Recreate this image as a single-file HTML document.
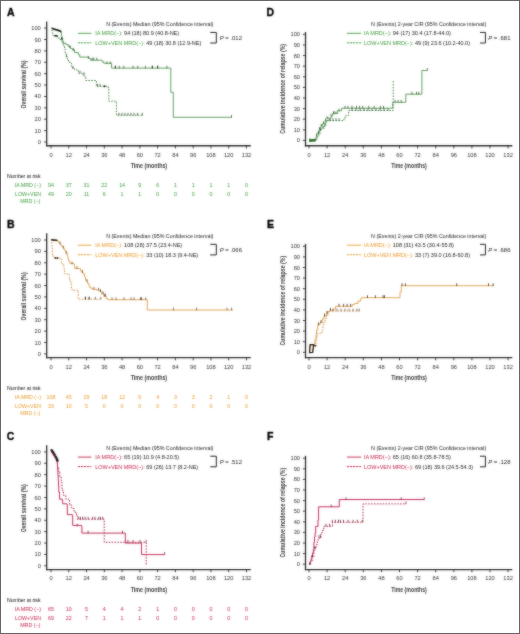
<!DOCTYPE html><html><head><meta charset="utf-8"><style>html,body{margin:0;padding:0;background:#fff;}svg{display:block;font-family:"Liberation Sans",sans-serif;}</style></head><body>
<svg width="520" height="634" viewBox="0 0 520 634">
<defs><filter id="sf" x="0" y="0" width="520" height="634" filterUnits="userSpaceOnUse"><feGaussianBlur in="SourceGraphic" stdDeviation="0.8" result="b"/><feComposite in="b" in2="SourceGraphic" operator="arithmetic" k1="0" k2="0.45" k3="0.55" k4="0"/></filter></defs>
<rect x="0" y="0" width="520" height="634" fill="#fff"/>
<g filter="url(#sf)">
<text x="6.9" y="15.8" font-size="10.5" text-anchor="start" fill="#000" font-weight="bold" stroke="#000" stroke-width="0.35">A</text>
<line x1="46.7" y1="21.4" x2="46.7" y2="146.35" stroke="#2a2a2a" stroke-width="1.3"/>
<line x1="46.05" y1="145.75" x2="250.8" y2="145.75" stroke="#2a2a2a" stroke-width="1.35"/>
<line x1="44.1" y1="142" x2="46.7" y2="142" stroke="#2a2a2a" stroke-width="0.9"/>
<text x="40.8" y="144.05" font-size="5.7" text-anchor="end" fill="#333" font-weight="normal" >0</text>
<line x1="44.1" y1="130.61" x2="46.7" y2="130.61" stroke="#2a2a2a" stroke-width="0.9"/>
<text x="40.8" y="132.66" font-size="5.7" text-anchor="end" fill="#333" font-weight="normal" >10</text>
<line x1="44.1" y1="119.22" x2="46.7" y2="119.22" stroke="#2a2a2a" stroke-width="0.9"/>
<text x="40.8" y="121.27" font-size="5.7" text-anchor="end" fill="#333" font-weight="normal" >20</text>
<line x1="44.1" y1="107.83" x2="46.7" y2="107.83" stroke="#2a2a2a" stroke-width="0.9"/>
<text x="40.8" y="109.88" font-size="5.7" text-anchor="end" fill="#333" font-weight="normal" >30</text>
<line x1="44.1" y1="96.44" x2="46.7" y2="96.44" stroke="#2a2a2a" stroke-width="0.9"/>
<text x="40.8" y="98.49" font-size="5.7" text-anchor="end" fill="#333" font-weight="normal" >40</text>
<line x1="44.1" y1="85.05" x2="46.7" y2="85.05" stroke="#2a2a2a" stroke-width="0.9"/>
<text x="40.8" y="87.1" font-size="5.7" text-anchor="end" fill="#333" font-weight="normal" >50</text>
<line x1="44.1" y1="73.66" x2="46.7" y2="73.66" stroke="#2a2a2a" stroke-width="0.9"/>
<text x="40.8" y="75.71" font-size="5.7" text-anchor="end" fill="#333" font-weight="normal" >60</text>
<line x1="44.1" y1="62.27" x2="46.7" y2="62.27" stroke="#2a2a2a" stroke-width="0.9"/>
<text x="40.8" y="64.32" font-size="5.7" text-anchor="end" fill="#333" font-weight="normal" >70</text>
<line x1="44.1" y1="50.88" x2="46.7" y2="50.88" stroke="#2a2a2a" stroke-width="0.9"/>
<text x="40.8" y="52.93" font-size="5.7" text-anchor="end" fill="#333" font-weight="normal" >80</text>
<line x1="44.1" y1="39.49" x2="46.7" y2="39.49" stroke="#2a2a2a" stroke-width="0.9"/>
<text x="40.8" y="41.54" font-size="5.7" text-anchor="end" fill="#333" font-weight="normal" >90</text>
<line x1="44.1" y1="28.1" x2="46.7" y2="28.1" stroke="#2a2a2a" stroke-width="0.9"/>
<text x="40.8" y="30.15" font-size="5.7" text-anchor="end" fill="#333" font-weight="normal" >100</text>
<line x1="51" y1="145.75" x2="51" y2="148.45" stroke="#2a2a2a" stroke-width="0.9"/>
<text x="51" y="156.6" font-size="5.7" text-anchor="middle" fill="#333" font-weight="normal" >0</text>
<line x1="68.77" y1="145.75" x2="68.77" y2="148.45" stroke="#2a2a2a" stroke-width="0.9"/>
<text x="68.77" y="156.6" font-size="5.7" text-anchor="middle" fill="#333" font-weight="normal" >12</text>
<line x1="86.54" y1="145.75" x2="86.54" y2="148.45" stroke="#2a2a2a" stroke-width="0.9"/>
<text x="86.54" y="156.6" font-size="5.7" text-anchor="middle" fill="#333" font-weight="normal" >24</text>
<line x1="104.31" y1="145.75" x2="104.31" y2="148.45" stroke="#2a2a2a" stroke-width="0.9"/>
<text x="104.31" y="156.6" font-size="5.7" text-anchor="middle" fill="#333" font-weight="normal" >36</text>
<line x1="122.08" y1="145.75" x2="122.08" y2="148.45" stroke="#2a2a2a" stroke-width="0.9"/>
<text x="122.08" y="156.6" font-size="5.7" text-anchor="middle" fill="#333" font-weight="normal" >48</text>
<line x1="139.85" y1="145.75" x2="139.85" y2="148.45" stroke="#2a2a2a" stroke-width="0.9"/>
<text x="139.85" y="156.6" font-size="5.7" text-anchor="middle" fill="#333" font-weight="normal" >60</text>
<line x1="157.62" y1="145.75" x2="157.62" y2="148.45" stroke="#2a2a2a" stroke-width="0.9"/>
<text x="157.62" y="156.6" font-size="5.7" text-anchor="middle" fill="#333" font-weight="normal" >72</text>
<line x1="175.39" y1="145.75" x2="175.39" y2="148.45" stroke="#2a2a2a" stroke-width="0.9"/>
<text x="175.39" y="156.6" font-size="5.7" text-anchor="middle" fill="#333" font-weight="normal" >84</text>
<line x1="193.16" y1="145.75" x2="193.16" y2="148.45" stroke="#2a2a2a" stroke-width="0.9"/>
<text x="193.16" y="156.6" font-size="5.7" text-anchor="middle" fill="#333" font-weight="normal" >96</text>
<line x1="210.93" y1="145.75" x2="210.93" y2="148.45" stroke="#2a2a2a" stroke-width="0.9"/>
<text x="210.93" y="156.6" font-size="5.7" text-anchor="middle" fill="#333" font-weight="normal" >108</text>
<line x1="228.7" y1="145.75" x2="228.7" y2="148.45" stroke="#2a2a2a" stroke-width="0.9"/>
<text x="228.7" y="156.6" font-size="5.7" text-anchor="middle" fill="#333" font-weight="normal" >120</text>
<line x1="246.47" y1="145.75" x2="246.47" y2="148.45" stroke="#2a2a2a" stroke-width="0.9"/>
<text x="246.47" y="156.6" font-size="5.7" text-anchor="middle" fill="#333" font-weight="normal" >132</text>
<text x="148.9" y="167.7" font-size="7.7" text-anchor="middle" fill="#3a3a3a" font-weight="bold" textLength="36.5" lengthAdjust="spacingAndGlyphs" >Time (months)</text>
<text transform="translate(25.6,84.5) rotate(-90)" font-size="7.8" font-weight="bold" text-anchor="middle" fill="#3a3a3a" textLength="48" lengthAdjust="spacingAndGlyphs">Overall survival (%)</text>
<text x="106.2" y="26" font-size="5.35" text-anchor="start" fill="#222" font-weight="normal" textLength="107.2" lengthAdjust="spacingAndGlyphs" >N (Events) Median (95% Confidence interval)</text>
<line x1="77.9" y1="33.3" x2="91.3" y2="33.3" stroke="#3f9a3f" stroke-width="0.9"/>
<line x1="77.9" y1="42.8" x2="91.3" y2="42.8" stroke="#3f9a3f" stroke-width="0.95" stroke-dasharray="2.3,0.75"/>
<text x="95.2" y="35.1" font-size="5.5" fill="#222"><tspan fill="#3f9a3f">IA MRD(&#8722;):</tspan> 94 (18) 80.9 (40.8-NE)</text>
<text x="95.2" y="44.7" font-size="5.5" fill="#222"><tspan fill="#3f9a3f">LOW+VEN MRD(&#8722;):</tspan> 49 (18) 30.8 (12.9-NE)</text>
<polyline fill="none" stroke="#222" stroke-width="1" points="210.2,32.4 216.3,32.4 216.3,43 210.2,43"/>
<text x="219.8" y="39.9" font-size="5.9" fill="#222"><tspan font-style="italic">P</tspan> = .012</text>
<text x="7" y="178" font-size="5.2" text-anchor="start" fill="#111" font-weight="normal" textLength="33.5" lengthAdjust="spacingAndGlyphs" >Number at risk</text>
<text x="41" y="187" font-size="5.3" text-anchor="end" fill="#3f9a3f" font-weight="normal" >IA MRD (&#8722;)</text>
<text x="41" y="196" font-size="5.3" text-anchor="end" fill="#3f9a3f" font-weight="normal" >LOW+VEN</text>
<text x="40.3" y="203.2" font-size="5.3" text-anchor="end" fill="#3f9a3f" font-weight="normal" >MRD (&#8722;)</text>
<text x="51" y="187" font-size="5.3" text-anchor="middle" fill="#3f9a3f" font-weight="normal" >94</text>
<text x="68.77" y="187" font-size="5.3" text-anchor="middle" fill="#3f9a3f" font-weight="normal" >37</text>
<text x="86.54" y="187" font-size="5.3" text-anchor="middle" fill="#3f9a3f" font-weight="normal" >31</text>
<text x="104.31" y="187" font-size="5.3" text-anchor="middle" fill="#3f9a3f" font-weight="normal" >22</text>
<text x="122.08" y="187" font-size="5.3" text-anchor="middle" fill="#3f9a3f" font-weight="normal" >14</text>
<text x="139.85" y="187" font-size="5.3" text-anchor="middle" fill="#3f9a3f" font-weight="normal" >9</text>
<text x="157.62" y="187" font-size="5.3" text-anchor="middle" fill="#3f9a3f" font-weight="normal" >6</text>
<text x="175.39" y="187" font-size="5.3" text-anchor="middle" fill="#3f9a3f" font-weight="normal" >1</text>
<text x="193.16" y="187" font-size="5.3" text-anchor="middle" fill="#3f9a3f" font-weight="normal" >1</text>
<text x="210.93" y="187" font-size="5.3" text-anchor="middle" fill="#3f9a3f" font-weight="normal" >1</text>
<text x="228.7" y="187" font-size="5.3" text-anchor="middle" fill="#3f9a3f" font-weight="normal" >1</text>
<text x="246.47" y="187" font-size="5.3" text-anchor="middle" fill="#3f9a3f" font-weight="normal" >0</text>
<text x="51" y="196" font-size="5.3" text-anchor="middle" fill="#3f9a3f" font-weight="normal" >49</text>
<text x="68.77" y="196" font-size="5.3" text-anchor="middle" fill="#3f9a3f" font-weight="normal" >20</text>
<text x="86.54" y="196" font-size="5.3" text-anchor="middle" fill="#3f9a3f" font-weight="normal" >11</text>
<text x="104.31" y="196" font-size="5.3" text-anchor="middle" fill="#3f9a3f" font-weight="normal" >6</text>
<text x="122.08" y="196" font-size="5.3" text-anchor="middle" fill="#3f9a3f" font-weight="normal" >1</text>
<text x="139.85" y="196" font-size="5.3" text-anchor="middle" fill="#3f9a3f" font-weight="normal" >1</text>
<text x="157.62" y="196" font-size="5.3" text-anchor="middle" fill="#3f9a3f" font-weight="normal" >0</text>
<text x="175.39" y="196" font-size="5.3" text-anchor="middle" fill="#3f9a3f" font-weight="normal" >0</text>
<text x="193.16" y="196" font-size="5.3" text-anchor="middle" fill="#3f9a3f" font-weight="normal" >0</text>
<text x="210.93" y="196" font-size="5.3" text-anchor="middle" fill="#3f9a3f" font-weight="normal" >0</text>
<text x="228.7" y="196" font-size="5.3" text-anchor="middle" fill="#3f9a3f" font-weight="normal" >0</text>
<text x="246.47" y="196" font-size="5.3" text-anchor="middle" fill="#3f9a3f" font-weight="normal" >0</text>
<path d="M51,28.1H51.6V30.5H52.3V33H53V35.6H57.5V37.6H59V39.5H61V41H62.2V43H62.9V44.5H63.7V46.5H64.5V48.6H65.2V54H66.3V56.5H67.5V59.4H68.5V61.5H69.8V63.2H71.4V66.3H72.5V68H74.5V69.4H76.8V70.2H78.3V73.2H82.2V74.8H84.5V76.3H85.7V80.5H96.4V86.3H108.3V88.6H108.8V101.2H116.4V115.2H142.3" fill="none" stroke="#3f7a3f" stroke-width="0.95" stroke-dasharray="1.5,1.4"/>
<path d="M51,28.1H53V28.8H55.5V29.6H57.5V30.3H60.5V31.7H61.4V36H62V39H62.8V41.5H63.5V43.3H66V44.6H68.3V46.5H70.6V48.6H72.5V50H74.5V52.5H78.3V54.8H79.8V57.1H89V58.6H90.6V60.2H102.2V61.8H103.7V63.2H111.6V68.1H170.8V92.3H173.3V117.3H231.5" fill="none" stroke="#5a9a5a" stroke-width="0.95"/>
<line x1="69.8" y1="45.3" x2="69.8" y2="48" stroke="#2f4f2f" stroke-width="0.75"/>
<line x1="73.7" y1="48.1" x2="73.7" y2="50.8" stroke="#2f4f2f" stroke-width="0.75"/>
<line x1="88.3" y1="56.1" x2="88.3" y2="58.8" stroke="#2f4f2f" stroke-width="0.75"/>
<line x1="92.2" y1="57.6" x2="92.2" y2="60.3" stroke="#2f4f2f" stroke-width="0.75"/>
<line x1="93.7" y1="57.6" x2="93.7" y2="60.3" stroke="#2f4f2f" stroke-width="0.75"/>
<line x1="96.8" y1="57.6" x2="96.8" y2="60.3" stroke="#2f4f2f" stroke-width="0.75"/>
<line x1="106.8" y1="61.4" x2="106.8" y2="64.1" stroke="#2f4f2f" stroke-width="0.75"/>
<line x1="110.2" y1="61.4" x2="110.2" y2="64.1" stroke="#2f4f2f" stroke-width="0.75"/>
<line x1="115.4" y1="65.7" x2="115.4" y2="68.4" stroke="#2f4f2f" stroke-width="0.75"/>
<line x1="119.2" y1="65.7" x2="119.2" y2="68.4" stroke="#2f4f2f" stroke-width="0.75"/>
<line x1="123.8" y1="65.7" x2="123.8" y2="68.4" stroke="#2f4f2f" stroke-width="0.75"/>
<line x1="133.1" y1="65.7" x2="133.1" y2="68.4" stroke="#2f4f2f" stroke-width="0.75"/>
<line x1="137.7" y1="65.7" x2="137.7" y2="68.4" stroke="#2f4f2f" stroke-width="0.75"/>
<line x1="145.4" y1="65.7" x2="145.4" y2="68.4" stroke="#2f4f2f" stroke-width="0.75"/>
<line x1="152.3" y1="65.7" x2="152.3" y2="68.4" stroke="#2f4f2f" stroke-width="0.75"/>
<line x1="157.7" y1="65.7" x2="157.7" y2="68.4" stroke="#2f4f2f" stroke-width="0.75"/>
<line x1="166.9" y1="65.7" x2="166.9" y2="68.4" stroke="#2f4f2f" stroke-width="0.75"/>
<line x1="231.5" y1="114.9" x2="231.5" y2="117.6" stroke="#2f4f2f" stroke-width="0.75"/>
<line x1="66.5" y1="54.6" x2="66.5" y2="57.3" stroke="#2f4f2f" stroke-width="0.75"/>
<line x1="72.9" y1="66.1" x2="72.9" y2="68.8" stroke="#2f4f2f" stroke-width="0.75"/>
<line x1="80" y1="70.7" x2="80" y2="73.4" stroke="#2f4f2f" stroke-width="0.75"/>
<line x1="84" y1="72.2" x2="84" y2="74.9" stroke="#2f4f2f" stroke-width="0.75"/>
<line x1="97.5" y1="83.8" x2="97.5" y2="86.5" stroke="#2f4f2f" stroke-width="0.75"/>
<line x1="100" y1="83.8" x2="100" y2="86.5" stroke="#2f4f2f" stroke-width="0.75"/>
<line x1="119" y1="112.8" x2="119" y2="115.5" stroke="#2f4f2f" stroke-width="0.75"/>
<line x1="122" y1="112.8" x2="122" y2="115.5" stroke="#2f4f2f" stroke-width="0.75"/>
<line x1="125" y1="112.8" x2="125" y2="115.5" stroke="#2f4f2f" stroke-width="0.75"/>
<line x1="128" y1="112.8" x2="128" y2="115.5" stroke="#2f4f2f" stroke-width="0.75"/>
<line x1="131" y1="112.8" x2="131" y2="115.5" stroke="#2f4f2f" stroke-width="0.75"/>
<line x1="134" y1="112.8" x2="134" y2="115.5" stroke="#2f4f2f" stroke-width="0.75"/>
<line x1="137.5" y1="112.8" x2="137.5" y2="115.5" stroke="#2f4f2f" stroke-width="0.75"/>
<line x1="142.3" y1="112.8" x2="142.3" y2="115.5" stroke="#2f4f2f" stroke-width="0.75"/>
<line x1="115.4" y1="65.7" x2="115.4" y2="68.4" stroke="#111" stroke-width="0.75"/>
<line x1="152.3" y1="65.7" x2="152.3" y2="68.4" stroke="#111" stroke-width="0.75"/>
<line x1="157.7" y1="65.7" x2="157.7" y2="68.4" stroke="#111" stroke-width="0.75"/>
<path d="M52,28.6 L55,29.4 L58,30.2 L61.2,31.8 M54.3,35.7 H57.6 M61.8,37.6 V39.4" fill="none" stroke="#111" stroke-width="1.6"/>
<rect x="103.6" y="85.4" width="1.8" height="1.8" fill="#111"/>
<text x="7.1" y="227.5" font-size="10.5" text-anchor="start" fill="#000" font-weight="bold" stroke="#000" stroke-width="0.35">B</text>
<line x1="46.7" y1="233.3" x2="46.7" y2="358.25" stroke="#2a2a2a" stroke-width="1.3"/>
<line x1="46.05" y1="357.65" x2="250.8" y2="357.65" stroke="#2a2a2a" stroke-width="1.35"/>
<line x1="44.1" y1="353.9" x2="46.7" y2="353.9" stroke="#2a2a2a" stroke-width="0.9"/>
<text x="40.8" y="355.95" font-size="5.7" text-anchor="end" fill="#333" font-weight="normal" >0</text>
<line x1="44.1" y1="342.51" x2="46.7" y2="342.51" stroke="#2a2a2a" stroke-width="0.9"/>
<text x="40.8" y="344.56" font-size="5.7" text-anchor="end" fill="#333" font-weight="normal" >10</text>
<line x1="44.1" y1="331.12" x2="46.7" y2="331.12" stroke="#2a2a2a" stroke-width="0.9"/>
<text x="40.8" y="333.17" font-size="5.7" text-anchor="end" fill="#333" font-weight="normal" >20</text>
<line x1="44.1" y1="319.73" x2="46.7" y2="319.73" stroke="#2a2a2a" stroke-width="0.9"/>
<text x="40.8" y="321.78" font-size="5.7" text-anchor="end" fill="#333" font-weight="normal" >30</text>
<line x1="44.1" y1="308.34" x2="46.7" y2="308.34" stroke="#2a2a2a" stroke-width="0.9"/>
<text x="40.8" y="310.39" font-size="5.7" text-anchor="end" fill="#333" font-weight="normal" >40</text>
<line x1="44.1" y1="296.95" x2="46.7" y2="296.95" stroke="#2a2a2a" stroke-width="0.9"/>
<text x="40.8" y="299" font-size="5.7" text-anchor="end" fill="#333" font-weight="normal" >50</text>
<line x1="44.1" y1="285.56" x2="46.7" y2="285.56" stroke="#2a2a2a" stroke-width="0.9"/>
<text x="40.8" y="287.61" font-size="5.7" text-anchor="end" fill="#333" font-weight="normal" >60</text>
<line x1="44.1" y1="274.17" x2="46.7" y2="274.17" stroke="#2a2a2a" stroke-width="0.9"/>
<text x="40.8" y="276.22" font-size="5.7" text-anchor="end" fill="#333" font-weight="normal" >70</text>
<line x1="44.1" y1="262.78" x2="46.7" y2="262.78" stroke="#2a2a2a" stroke-width="0.9"/>
<text x="40.8" y="264.83" font-size="5.7" text-anchor="end" fill="#333" font-weight="normal" >80</text>
<line x1="44.1" y1="251.39" x2="46.7" y2="251.39" stroke="#2a2a2a" stroke-width="0.9"/>
<text x="40.8" y="253.44" font-size="5.7" text-anchor="end" fill="#333" font-weight="normal" >90</text>
<line x1="44.1" y1="240" x2="46.7" y2="240" stroke="#2a2a2a" stroke-width="0.9"/>
<text x="40.8" y="242.05" font-size="5.7" text-anchor="end" fill="#333" font-weight="normal" >100</text>
<line x1="51" y1="357.65" x2="51" y2="360.35" stroke="#2a2a2a" stroke-width="0.9"/>
<text x="51" y="368.5" font-size="5.7" text-anchor="middle" fill="#333" font-weight="normal" >0</text>
<line x1="68.77" y1="357.65" x2="68.77" y2="360.35" stroke="#2a2a2a" stroke-width="0.9"/>
<text x="68.77" y="368.5" font-size="5.7" text-anchor="middle" fill="#333" font-weight="normal" >12</text>
<line x1="86.54" y1="357.65" x2="86.54" y2="360.35" stroke="#2a2a2a" stroke-width="0.9"/>
<text x="86.54" y="368.5" font-size="5.7" text-anchor="middle" fill="#333" font-weight="normal" >24</text>
<line x1="104.31" y1="357.65" x2="104.31" y2="360.35" stroke="#2a2a2a" stroke-width="0.9"/>
<text x="104.31" y="368.5" font-size="5.7" text-anchor="middle" fill="#333" font-weight="normal" >36</text>
<line x1="122.08" y1="357.65" x2="122.08" y2="360.35" stroke="#2a2a2a" stroke-width="0.9"/>
<text x="122.08" y="368.5" font-size="5.7" text-anchor="middle" fill="#333" font-weight="normal" >48</text>
<line x1="139.85" y1="357.65" x2="139.85" y2="360.35" stroke="#2a2a2a" stroke-width="0.9"/>
<text x="139.85" y="368.5" font-size="5.7" text-anchor="middle" fill="#333" font-weight="normal" >60</text>
<line x1="157.62" y1="357.65" x2="157.62" y2="360.35" stroke="#2a2a2a" stroke-width="0.9"/>
<text x="157.62" y="368.5" font-size="5.7" text-anchor="middle" fill="#333" font-weight="normal" >72</text>
<line x1="175.39" y1="357.65" x2="175.39" y2="360.35" stroke="#2a2a2a" stroke-width="0.9"/>
<text x="175.39" y="368.5" font-size="5.7" text-anchor="middle" fill="#333" font-weight="normal" >84</text>
<line x1="193.16" y1="357.65" x2="193.16" y2="360.35" stroke="#2a2a2a" stroke-width="0.9"/>
<text x="193.16" y="368.5" font-size="5.7" text-anchor="middle" fill="#333" font-weight="normal" >96</text>
<line x1="210.93" y1="357.65" x2="210.93" y2="360.35" stroke="#2a2a2a" stroke-width="0.9"/>
<text x="210.93" y="368.5" font-size="5.7" text-anchor="middle" fill="#333" font-weight="normal" >108</text>
<line x1="228.7" y1="357.65" x2="228.7" y2="360.35" stroke="#2a2a2a" stroke-width="0.9"/>
<text x="228.7" y="368.5" font-size="5.7" text-anchor="middle" fill="#333" font-weight="normal" >120</text>
<line x1="246.47" y1="357.65" x2="246.47" y2="360.35" stroke="#2a2a2a" stroke-width="0.9"/>
<text x="246.47" y="368.5" font-size="5.7" text-anchor="middle" fill="#333" font-weight="normal" >132</text>
<text x="148.9" y="379.6" font-size="7.7" text-anchor="middle" fill="#3a3a3a" font-weight="bold" textLength="36.5" lengthAdjust="spacingAndGlyphs" >Time (months)</text>
<text transform="translate(25.6,296.4) rotate(-90)" font-size="7.8" font-weight="bold" text-anchor="middle" fill="#3a3a3a" textLength="48" lengthAdjust="spacingAndGlyphs">Overall survival (%)</text>
<text x="106.2" y="237.9" font-size="5.35" text-anchor="start" fill="#222" font-weight="normal" textLength="107.2" lengthAdjust="spacingAndGlyphs" >N (Events) Median (95% Confidence interval)</text>
<line x1="77.9" y1="245.2" x2="91.3" y2="245.2" stroke="#e89a2e" stroke-width="0.9"/>
<line x1="77.9" y1="254.7" x2="91.3" y2="254.7" stroke="#e89a2e" stroke-width="0.95" stroke-dasharray="2.3,0.75"/>
<text x="95.2" y="247" font-size="5.5" fill="#222"><tspan fill="#e89a2e">IA MRD(&#8722;):</tspan> 108 (28) 37.5 (23.4-NE)</text>
<text x="95.2" y="256.6" font-size="5.5" fill="#222"><tspan fill="#e89a2e">LOW+VEN MRD(&#8722;):</tspan> 33 (10) 18.3 (9.4-NE)</text>
<polyline fill="none" stroke="#222" stroke-width="1" points="210.2,244.3 216.3,244.3 216.3,254.9 210.2,254.9"/>
<text x="219.8" y="251.8" font-size="5.9" fill="#222"><tspan font-style="italic">P</tspan> = .066</text>
<text x="7" y="389.9" font-size="5.2" text-anchor="start" fill="#111" font-weight="normal" textLength="33.5" lengthAdjust="spacingAndGlyphs" >Number at risk</text>
<text x="41" y="398.9" font-size="5.3" text-anchor="end" fill="#e89a2e" font-weight="normal" >IA MRD (&#8722;)</text>
<text x="41" y="407.9" font-size="5.3" text-anchor="end" fill="#e89a2e" font-weight="normal" >LOW+VEN</text>
<text x="40.3" y="415.1" font-size="5.3" text-anchor="end" fill="#e89a2e" font-weight="normal" >MRD (&#8722;)</text>
<text x="51" y="398.9" font-size="5.3" text-anchor="middle" fill="#e89a2e" font-weight="normal" >108</text>
<text x="68.77" y="398.9" font-size="5.3" text-anchor="middle" fill="#e89a2e" font-weight="normal" >45</text>
<text x="86.54" y="398.9" font-size="5.3" text-anchor="middle" fill="#e89a2e" font-weight="normal" >29</text>
<text x="104.31" y="398.9" font-size="5.3" text-anchor="middle" fill="#e89a2e" font-weight="normal" >18</text>
<text x="122.08" y="398.9" font-size="5.3" text-anchor="middle" fill="#e89a2e" font-weight="normal" >12</text>
<text x="139.85" y="398.9" font-size="5.3" text-anchor="middle" fill="#e89a2e" font-weight="normal" >6</text>
<text x="157.62" y="398.9" font-size="5.3" text-anchor="middle" fill="#e89a2e" font-weight="normal" >4</text>
<text x="175.39" y="398.9" font-size="5.3" text-anchor="middle" fill="#e89a2e" font-weight="normal" >3</text>
<text x="193.16" y="398.9" font-size="5.3" text-anchor="middle" fill="#e89a2e" font-weight="normal" >3</text>
<text x="210.93" y="398.9" font-size="5.3" text-anchor="middle" fill="#e89a2e" font-weight="normal" >2</text>
<text x="228.7" y="398.9" font-size="5.3" text-anchor="middle" fill="#e89a2e" font-weight="normal" >1</text>
<text x="246.47" y="398.9" font-size="5.3" text-anchor="middle" fill="#e89a2e" font-weight="normal" >0</text>
<text x="51" y="407.9" font-size="5.3" text-anchor="middle" fill="#e89a2e" font-weight="normal" >33</text>
<text x="68.77" y="407.9" font-size="5.3" text-anchor="middle" fill="#e89a2e" font-weight="normal" >10</text>
<text x="86.54" y="407.9" font-size="5.3" text-anchor="middle" fill="#e89a2e" font-weight="normal" >5</text>
<text x="104.31" y="407.9" font-size="5.3" text-anchor="middle" fill="#e89a2e" font-weight="normal" >0</text>
<text x="122.08" y="407.9" font-size="5.3" text-anchor="middle" fill="#e89a2e" font-weight="normal" >0</text>
<text x="139.85" y="407.9" font-size="5.3" text-anchor="middle" fill="#e89a2e" font-weight="normal" >0</text>
<text x="157.62" y="407.9" font-size="5.3" text-anchor="middle" fill="#e89a2e" font-weight="normal" >0</text>
<text x="175.39" y="407.9" font-size="5.3" text-anchor="middle" fill="#e89a2e" font-weight="normal" >0</text>
<text x="193.16" y="407.9" font-size="5.3" text-anchor="middle" fill="#e89a2e" font-weight="normal" >0</text>
<text x="210.93" y="407.9" font-size="5.3" text-anchor="middle" fill="#e89a2e" font-weight="normal" >0</text>
<text x="228.7" y="407.9" font-size="5.3" text-anchor="middle" fill="#e89a2e" font-weight="normal" >0</text>
<text x="246.47" y="407.9" font-size="5.3" text-anchor="middle" fill="#e89a2e" font-weight="normal" >0</text>
<path d="M51.2,240H51.8V246H52.3V256H54V257.8H60.4V259.4H61.6V262.8H62.7V265.2H63.9V268.6H64.5V274H69.3V280H70.8V283H71.4V288.2H72V290.3H78.2V299.2H101.5" fill="none" stroke="#c98a40" stroke-width="0.95" stroke-dasharray="1.5,1.4"/>
<path d="M51.2,240H57V240.8H58.7V242.6H60V244H61V245.5H62.2V246.8H63.3V248.2H64.2V249.7H65V251H66.2V253.5H67.3V256H68V259H68.5V261H70V263.3H73.8V264.2H74.6V268.5H80.4V270.8H81.8V272.4H83.1V274H84.6V277H85.5V280H86.5V281.5H87.7V283.5H89V286H90V288H92.3V289.3H96.9V290.2H100V291.6H101.5V293.8H103.8V296.2H106.2V298.5H107.7V299.7H147.3V310H232.8" fill="none" stroke="#e0a050" stroke-width="0.95"/>
<line x1="85.4" y1="296.8" x2="85.4" y2="299.5" stroke="#5a4a3a" stroke-width="0.75"/>
<line x1="89.2" y1="296.8" x2="89.2" y2="299.5" stroke="#5a4a3a" stroke-width="0.75"/>
<line x1="95.4" y1="296.8" x2="95.4" y2="299.5" stroke="#5a4a3a" stroke-width="0.75"/>
<line x1="100.8" y1="296.8" x2="100.8" y2="299.5" stroke="#5a4a3a" stroke-width="0.75"/>
<line x1="60" y1="241.6" x2="60" y2="244.3" stroke="#5a4a3a" stroke-width="0.75"/>
<line x1="63.3" y1="245.8" x2="63.3" y2="248.5" stroke="#5a4a3a" stroke-width="0.75"/>
<line x1="66.2" y1="251.1" x2="66.2" y2="253.8" stroke="#5a4a3a" stroke-width="0.75"/>
<line x1="72" y1="261.8" x2="72" y2="264.5" stroke="#5a4a3a" stroke-width="0.75"/>
<line x1="77" y1="266.1" x2="77" y2="268.8" stroke="#5a4a3a" stroke-width="0.75"/>
<line x1="82.5" y1="270" x2="82.5" y2="272.7" stroke="#5a4a3a" stroke-width="0.75"/>
<line x1="87" y1="279.1" x2="87" y2="281.8" stroke="#5a4a3a" stroke-width="0.75"/>
<line x1="94" y1="286.9" x2="94" y2="289.6" stroke="#5a4a3a" stroke-width="0.75"/>
<line x1="98.5" y1="287.8" x2="98.5" y2="290.5" stroke="#5a4a3a" stroke-width="0.75"/>
<line x1="104.8" y1="293.8" x2="104.8" y2="296.5" stroke="#5a4a3a" stroke-width="0.75"/>
<line x1="112" y1="297.3" x2="112" y2="300" stroke="#5a4a3a" stroke-width="0.75"/>
<line x1="116" y1="297.3" x2="116" y2="300" stroke="#5a4a3a" stroke-width="0.75"/>
<line x1="124" y1="297.3" x2="124" y2="300" stroke="#5a4a3a" stroke-width="0.75"/>
<line x1="131" y1="297.3" x2="131" y2="300" stroke="#5a4a3a" stroke-width="0.75"/>
<line x1="134" y1="297.3" x2="134" y2="300" stroke="#5a4a3a" stroke-width="0.75"/>
<line x1="145.7" y1="297.3" x2="145.7" y2="300" stroke="#5a4a3a" stroke-width="0.75"/>
<line x1="173.4" y1="307.6" x2="173.4" y2="310.3" stroke="#5a4a3a" stroke-width="0.75"/>
<line x1="196.5" y1="307.6" x2="196.5" y2="310.3" stroke="#5a4a3a" stroke-width="0.75"/>
<line x1="227" y1="307.6" x2="227" y2="310.3" stroke="#5a4a3a" stroke-width="0.75"/>
<line x1="231.6" y1="307.6" x2="231.6" y2="310.3" stroke="#5a4a3a" stroke-width="0.75"/>
<line x1="140.4" y1="297.3" x2="140.4" y2="300" stroke="#111" stroke-width="0.75"/>
<line x1="141.6" y1="297.3" x2="141.6" y2="300" stroke="#111" stroke-width="0.75"/>
<line x1="100.5" y1="289.2" x2="100.5" y2="291.9" stroke="#111" stroke-width="0.75"/>
<line x1="103" y1="291.4" x2="103" y2="294.1" stroke="#111" stroke-width="0.75"/>
<line x1="105.2" y1="293.8" x2="105.2" y2="296.5" stroke="#111" stroke-width="0.75"/>
<line x1="85.4" y1="296.8" x2="85.4" y2="299.5" stroke="#111" stroke-width="0.75"/>
<line x1="89.2" y1="296.8" x2="89.2" y2="299.5" stroke="#111" stroke-width="0.75"/>
<rect x="51.2" y="239" width="1.6" height="1.6" fill="#111"/>
<rect x="52.7" y="239.2" width="1.6" height="1.6" fill="#111"/>
<rect x="54.2" y="239.4" width="1.6" height="1.6" fill="#111"/>
<rect x="55.7" y="239.6" width="1.6" height="1.6" fill="#111"/>
<rect x="54.7" y="257.2" width="1.6" height="1.6" fill="#111"/>
<rect x="56.7" y="257.4" width="1.6" height="1.6" fill="#111"/>
<text x="6.8" y="439.6" font-size="10.5" text-anchor="start" fill="#000" font-weight="bold" stroke="#000" stroke-width="0.35">C</text>
<line x1="46.7" y1="445.2" x2="46.7" y2="570.15" stroke="#2a2a2a" stroke-width="1.3"/>
<line x1="46.05" y1="569.55" x2="250.8" y2="569.55" stroke="#2a2a2a" stroke-width="1.35"/>
<line x1="44.1" y1="565.8" x2="46.7" y2="565.8" stroke="#2a2a2a" stroke-width="0.9"/>
<text x="40.8" y="567.85" font-size="5.7" text-anchor="end" fill="#333" font-weight="normal" >0</text>
<line x1="44.1" y1="554.41" x2="46.7" y2="554.41" stroke="#2a2a2a" stroke-width="0.9"/>
<text x="40.8" y="556.46" font-size="5.7" text-anchor="end" fill="#333" font-weight="normal" >10</text>
<line x1="44.1" y1="543.02" x2="46.7" y2="543.02" stroke="#2a2a2a" stroke-width="0.9"/>
<text x="40.8" y="545.07" font-size="5.7" text-anchor="end" fill="#333" font-weight="normal" >20</text>
<line x1="44.1" y1="531.63" x2="46.7" y2="531.63" stroke="#2a2a2a" stroke-width="0.9"/>
<text x="40.8" y="533.68" font-size="5.7" text-anchor="end" fill="#333" font-weight="normal" >30</text>
<line x1="44.1" y1="520.24" x2="46.7" y2="520.24" stroke="#2a2a2a" stroke-width="0.9"/>
<text x="40.8" y="522.29" font-size="5.7" text-anchor="end" fill="#333" font-weight="normal" >40</text>
<line x1="44.1" y1="508.85" x2="46.7" y2="508.85" stroke="#2a2a2a" stroke-width="0.9"/>
<text x="40.8" y="510.9" font-size="5.7" text-anchor="end" fill="#333" font-weight="normal" >50</text>
<line x1="44.1" y1="497.46" x2="46.7" y2="497.46" stroke="#2a2a2a" stroke-width="0.9"/>
<text x="40.8" y="499.51" font-size="5.7" text-anchor="end" fill="#333" font-weight="normal" >60</text>
<line x1="44.1" y1="486.07" x2="46.7" y2="486.07" stroke="#2a2a2a" stroke-width="0.9"/>
<text x="40.8" y="488.12" font-size="5.7" text-anchor="end" fill="#333" font-weight="normal" >70</text>
<line x1="44.1" y1="474.68" x2="46.7" y2="474.68" stroke="#2a2a2a" stroke-width="0.9"/>
<text x="40.8" y="476.73" font-size="5.7" text-anchor="end" fill="#333" font-weight="normal" >80</text>
<line x1="44.1" y1="463.29" x2="46.7" y2="463.29" stroke="#2a2a2a" stroke-width="0.9"/>
<text x="40.8" y="465.34" font-size="5.7" text-anchor="end" fill="#333" font-weight="normal" >90</text>
<line x1="44.1" y1="451.9" x2="46.7" y2="451.9" stroke="#2a2a2a" stroke-width="0.9"/>
<text x="40.8" y="453.95" font-size="5.7" text-anchor="end" fill="#333" font-weight="normal" >100</text>
<line x1="51" y1="569.55" x2="51" y2="572.25" stroke="#2a2a2a" stroke-width="0.9"/>
<text x="51" y="580.4" font-size="5.7" text-anchor="middle" fill="#333" font-weight="normal" >0</text>
<line x1="68.77" y1="569.55" x2="68.77" y2="572.25" stroke="#2a2a2a" stroke-width="0.9"/>
<text x="68.77" y="580.4" font-size="5.7" text-anchor="middle" fill="#333" font-weight="normal" >12</text>
<line x1="86.54" y1="569.55" x2="86.54" y2="572.25" stroke="#2a2a2a" stroke-width="0.9"/>
<text x="86.54" y="580.4" font-size="5.7" text-anchor="middle" fill="#333" font-weight="normal" >24</text>
<line x1="104.31" y1="569.55" x2="104.31" y2="572.25" stroke="#2a2a2a" stroke-width="0.9"/>
<text x="104.31" y="580.4" font-size="5.7" text-anchor="middle" fill="#333" font-weight="normal" >36</text>
<line x1="122.08" y1="569.55" x2="122.08" y2="572.25" stroke="#2a2a2a" stroke-width="0.9"/>
<text x="122.08" y="580.4" font-size="5.7" text-anchor="middle" fill="#333" font-weight="normal" >48</text>
<line x1="139.85" y1="569.55" x2="139.85" y2="572.25" stroke="#2a2a2a" stroke-width="0.9"/>
<text x="139.85" y="580.4" font-size="5.7" text-anchor="middle" fill="#333" font-weight="normal" >60</text>
<line x1="157.62" y1="569.55" x2="157.62" y2="572.25" stroke="#2a2a2a" stroke-width="0.9"/>
<text x="157.62" y="580.4" font-size="5.7" text-anchor="middle" fill="#333" font-weight="normal" >72</text>
<line x1="175.39" y1="569.55" x2="175.39" y2="572.25" stroke="#2a2a2a" stroke-width="0.9"/>
<text x="175.39" y="580.4" font-size="5.7" text-anchor="middle" fill="#333" font-weight="normal" >84</text>
<line x1="193.16" y1="569.55" x2="193.16" y2="572.25" stroke="#2a2a2a" stroke-width="0.9"/>
<text x="193.16" y="580.4" font-size="5.7" text-anchor="middle" fill="#333" font-weight="normal" >96</text>
<line x1="210.93" y1="569.55" x2="210.93" y2="572.25" stroke="#2a2a2a" stroke-width="0.9"/>
<text x="210.93" y="580.4" font-size="5.7" text-anchor="middle" fill="#333" font-weight="normal" >108</text>
<line x1="228.7" y1="569.55" x2="228.7" y2="572.25" stroke="#2a2a2a" stroke-width="0.9"/>
<text x="228.7" y="580.4" font-size="5.7" text-anchor="middle" fill="#333" font-weight="normal" >120</text>
<line x1="246.47" y1="569.55" x2="246.47" y2="572.25" stroke="#2a2a2a" stroke-width="0.9"/>
<text x="246.47" y="580.4" font-size="5.7" text-anchor="middle" fill="#333" font-weight="normal" >132</text>
<text x="148.9" y="591.5" font-size="7.7" text-anchor="middle" fill="#3a3a3a" font-weight="bold" textLength="36.5" lengthAdjust="spacingAndGlyphs" >Time (months)</text>
<text transform="translate(25.6,508.3) rotate(-90)" font-size="7.8" font-weight="bold" text-anchor="middle" fill="#3a3a3a" textLength="48" lengthAdjust="spacingAndGlyphs">Overall survival (%)</text>
<text x="106.2" y="449.8" font-size="5.35" text-anchor="start" fill="#222" font-weight="normal" textLength="107.2" lengthAdjust="spacingAndGlyphs" >N (Events) Median (95% Confidence interval)</text>
<line x1="77.9" y1="457.1" x2="91.3" y2="457.1" stroke="#c0244c" stroke-width="0.9"/>
<line x1="77.9" y1="466.6" x2="91.3" y2="466.6" stroke="#c0244c" stroke-width="0.95" stroke-dasharray="2.3,0.75"/>
<text x="95.2" y="458.9" font-size="5.5" fill="#222"><tspan fill="#c0244c">IA MRD(&#8722;):</tspan> 65 (19) 10.9 (4.8-20.5)</text>
<text x="95.2" y="468.5" font-size="5.5" fill="#222"><tspan fill="#c0244c">LOW+VEN MRD(&#8722;):</tspan> 69 (26) 13.7 (8.2-NE)</text>
<polyline fill="none" stroke="#222" stroke-width="1" points="210.2,456.2 216.3,456.2 216.3,466.8 210.2,466.8"/>
<text x="219.8" y="463.7" font-size="5.9" fill="#222"><tspan font-style="italic">P</tspan> = .512</text>
<text x="7" y="601.8" font-size="5.2" text-anchor="start" fill="#111" font-weight="normal" textLength="33.5" lengthAdjust="spacingAndGlyphs" >Number at risk</text>
<text x="41" y="610.8" font-size="5.3" text-anchor="end" fill="#c0244c" font-weight="normal" >IA MRD (&#8722;)</text>
<text x="41" y="619.8" font-size="5.3" text-anchor="end" fill="#c0244c" font-weight="normal" >LOW+VEN</text>
<text x="40.3" y="627" font-size="5.3" text-anchor="end" fill="#c0244c" font-weight="normal" >MRD (&#8722;)</text>
<text x="51" y="610.8" font-size="5.3" text-anchor="middle" fill="#c0244c" font-weight="normal" >65</text>
<text x="68.77" y="610.8" font-size="5.3" text-anchor="middle" fill="#c0244c" font-weight="normal" >10</text>
<text x="86.54" y="610.8" font-size="5.3" text-anchor="middle" fill="#c0244c" font-weight="normal" >5</text>
<text x="104.31" y="610.8" font-size="5.3" text-anchor="middle" fill="#c0244c" font-weight="normal" >4</text>
<text x="122.08" y="610.8" font-size="5.3" text-anchor="middle" fill="#c0244c" font-weight="normal" >4</text>
<text x="139.85" y="610.8" font-size="5.3" text-anchor="middle" fill="#c0244c" font-weight="normal" >2</text>
<text x="157.62" y="610.8" font-size="5.3" text-anchor="middle" fill="#c0244c" font-weight="normal" >1</text>
<text x="175.39" y="610.8" font-size="5.3" text-anchor="middle" fill="#c0244c" font-weight="normal" >0</text>
<text x="193.16" y="610.8" font-size="5.3" text-anchor="middle" fill="#c0244c" font-weight="normal" >0</text>
<text x="210.93" y="610.8" font-size="5.3" text-anchor="middle" fill="#c0244c" font-weight="normal" >0</text>
<text x="228.7" y="610.8" font-size="5.3" text-anchor="middle" fill="#c0244c" font-weight="normal" >0</text>
<text x="246.47" y="610.8" font-size="5.3" text-anchor="middle" fill="#c0244c" font-weight="normal" >0</text>
<text x="51" y="619.8" font-size="5.3" text-anchor="middle" fill="#c0244c" font-weight="normal" >69</text>
<text x="68.77" y="619.8" font-size="5.3" text-anchor="middle" fill="#c0244c" font-weight="normal" >22</text>
<text x="86.54" y="619.8" font-size="5.3" text-anchor="middle" fill="#c0244c" font-weight="normal" >7</text>
<text x="104.31" y="619.8" font-size="5.3" text-anchor="middle" fill="#c0244c" font-weight="normal" >1</text>
<text x="122.08" y="619.8" font-size="5.3" text-anchor="middle" fill="#c0244c" font-weight="normal" >1</text>
<text x="139.85" y="619.8" font-size="5.3" text-anchor="middle" fill="#c0244c" font-weight="normal" >1</text>
<text x="157.62" y="619.8" font-size="5.3" text-anchor="middle" fill="#c0244c" font-weight="normal" >0</text>
<text x="175.39" y="619.8" font-size="5.3" text-anchor="middle" fill="#c0244c" font-weight="normal" >0</text>
<text x="193.16" y="619.8" font-size="5.3" text-anchor="middle" fill="#c0244c" font-weight="normal" >0</text>
<text x="210.93" y="619.8" font-size="5.3" text-anchor="middle" fill="#c0244c" font-weight="normal" >0</text>
<text x="228.7" y="619.8" font-size="5.3" text-anchor="middle" fill="#c0244c" font-weight="normal" >0</text>
<text x="246.47" y="619.8" font-size="5.3" text-anchor="middle" fill="#c0244c" font-weight="normal" >0</text>
<path d="M51.2,451.9H52V453.5H53V455H54V456.5H55V458H56V460H57V463H57.5V467.9H58.7V471.4H59.8V477.1H61.2V480.6H61.9V488.5H62.7V492H63.5V495.4H65.8V499.2H68.8V500H69.6V504.6H71.2V507.7H72.7V508.5H74.2V512.3H76.5V515.4H77.3V519.2H104.2V542.3H146.2V565.8" fill="none" stroke="#a82045" stroke-width="0.95" stroke-dasharray="1.5,1.4"/>
<path d="M51.2,451.9H52V453H53V454.5H54V456H55V457.3H56V458.5H57V460.5H57.3V465H57.6V470H57.9V475H58.2V480.6H58.5V486H58.8V492.3H59.6V499.2H62.3V500.5H62.7V503.8H66.9V504.6H67.3V514.6H72.3V515.4H72.7V525.4H81.5V526.2H81.9V533.1H125.3V543.1H141.5V554.6H164.6" fill="none" stroke="#c02850" stroke-width="0.95"/>
<line x1="78.8" y1="516.8" x2="78.8" y2="519.5" stroke="#6a1830" stroke-width="0.75"/>
<line x1="80.4" y1="516.8" x2="80.4" y2="519.5" stroke="#6a1830" stroke-width="0.75"/>
<line x1="82.7" y1="516.8" x2="82.7" y2="519.5" stroke="#6a1830" stroke-width="0.75"/>
<line x1="85" y1="516.8" x2="85" y2="519.5" stroke="#6a1830" stroke-width="0.75"/>
<line x1="88.1" y1="516.8" x2="88.1" y2="519.5" stroke="#6a1830" stroke-width="0.75"/>
<line x1="92.7" y1="516.8" x2="92.7" y2="519.5" stroke="#6a1830" stroke-width="0.75"/>
<line x1="95" y1="516.8" x2="95" y2="519.5" stroke="#6a1830" stroke-width="0.75"/>
<line x1="98.8" y1="516.8" x2="98.8" y2="519.5" stroke="#6a1830" stroke-width="0.75"/>
<line x1="100.4" y1="516.8" x2="100.4" y2="519.5" stroke="#6a1830" stroke-width="0.75"/>
<line x1="102.7" y1="516.8" x2="102.7" y2="519.5" stroke="#6a1830" stroke-width="0.75"/>
<line x1="128" y1="539.9" x2="128" y2="542.6" stroke="#6a1830" stroke-width="0.75"/>
<line x1="133" y1="539.9" x2="133" y2="542.6" stroke="#6a1830" stroke-width="0.75"/>
<line x1="140" y1="539.9" x2="140" y2="542.6" stroke="#6a1830" stroke-width="0.75"/>
<line x1="146" y1="539.9" x2="146" y2="542.6" stroke="#6a1830" stroke-width="0.75"/>
<line x1="77.3" y1="523.8" x2="77.3" y2="526.5" stroke="#6a1830" stroke-width="0.75"/>
<line x1="88.1" y1="530.7" x2="88.1" y2="533.4" stroke="#6a1830" stroke-width="0.75"/>
<line x1="122.5" y1="530.7" x2="122.5" y2="533.4" stroke="#6a1830" stroke-width="0.75"/>
<line x1="164.6" y1="552.2" x2="164.6" y2="554.9" stroke="#6a1830" stroke-width="0.75"/>
<circle cx="51.7" cy="450.2" r="1.2" fill="#1a1a1a"/>
<circle cx="52.6" cy="451.5" r="1.2" fill="#1a1a1a"/>
<circle cx="53.6" cy="453" r="1.2" fill="#1a1a1a"/>
<circle cx="54.7" cy="454.7" r="1.2" fill="#1a1a1a"/>
<circle cx="55.7" cy="456.6" r="1.2" fill="#1a1a1a"/>
<circle cx="56.5" cy="458.1" r="1.2" fill="#1a1a1a"/>
<circle cx="57.1" cy="459.4" r="1.2" fill="#1a1a1a"/>
<circle cx="57.5" cy="460.8" r="1.2" fill="#1a1a1a"/>
<text x="266.6" y="15.9" font-size="10.5" text-anchor="start" fill="#000" font-weight="bold" stroke="#000" stroke-width="0.35">D</text>
<line x1="305.5" y1="32" x2="305.5" y2="146.35" stroke="#2a2a2a" stroke-width="1.3"/>
<line x1="304.85" y1="145.75" x2="512.3" y2="145.75" stroke="#2a2a2a" stroke-width="1.35"/>
<line x1="302.9" y1="140.4" x2="305.5" y2="140.4" stroke="#2a2a2a" stroke-width="0.9"/>
<text x="300" y="142.45" font-size="5.7" text-anchor="end" fill="#333" font-weight="normal" >0</text>
<line x1="302.9" y1="129.8" x2="305.5" y2="129.8" stroke="#2a2a2a" stroke-width="0.9"/>
<text x="300" y="131.85" font-size="5.7" text-anchor="end" fill="#333" font-weight="normal" >10</text>
<line x1="302.9" y1="119.2" x2="305.5" y2="119.2" stroke="#2a2a2a" stroke-width="0.9"/>
<text x="300" y="121.25" font-size="5.7" text-anchor="end" fill="#333" font-weight="normal" >20</text>
<line x1="302.9" y1="108.6" x2="305.5" y2="108.6" stroke="#2a2a2a" stroke-width="0.9"/>
<text x="300" y="110.65" font-size="5.7" text-anchor="end" fill="#333" font-weight="normal" >30</text>
<line x1="302.9" y1="98" x2="305.5" y2="98" stroke="#2a2a2a" stroke-width="0.9"/>
<text x="300" y="100.05" font-size="5.7" text-anchor="end" fill="#333" font-weight="normal" >40</text>
<line x1="302.9" y1="87.4" x2="305.5" y2="87.4" stroke="#2a2a2a" stroke-width="0.9"/>
<text x="300" y="89.45" font-size="5.7" text-anchor="end" fill="#333" font-weight="normal" >50</text>
<line x1="302.9" y1="76.8" x2="305.5" y2="76.8" stroke="#2a2a2a" stroke-width="0.9"/>
<text x="300" y="78.85" font-size="5.7" text-anchor="end" fill="#333" font-weight="normal" >60</text>
<line x1="302.9" y1="66.2" x2="305.5" y2="66.2" stroke="#2a2a2a" stroke-width="0.9"/>
<text x="300" y="68.25" font-size="5.7" text-anchor="end" fill="#333" font-weight="normal" >70</text>
<line x1="302.9" y1="55.6" x2="305.5" y2="55.6" stroke="#2a2a2a" stroke-width="0.9"/>
<text x="300" y="57.65" font-size="5.7" text-anchor="end" fill="#333" font-weight="normal" >80</text>
<line x1="302.9" y1="45" x2="305.5" y2="45" stroke="#2a2a2a" stroke-width="0.9"/>
<text x="300" y="47.05" font-size="5.7" text-anchor="end" fill="#333" font-weight="normal" >90</text>
<line x1="302.9" y1="34.4" x2="305.5" y2="34.4" stroke="#2a2a2a" stroke-width="0.9"/>
<text x="300" y="36.45" font-size="5.7" text-anchor="end" fill="#333" font-weight="normal" >100</text>
<line x1="309" y1="145.75" x2="309" y2="148.45" stroke="#2a2a2a" stroke-width="0.9"/>
<text x="309" y="156.6" font-size="5.7" text-anchor="middle" fill="#333" font-weight="normal" >0</text>
<line x1="327.1" y1="145.75" x2="327.1" y2="148.45" stroke="#2a2a2a" stroke-width="0.9"/>
<text x="327.1" y="156.6" font-size="5.7" text-anchor="middle" fill="#333" font-weight="normal" >12</text>
<line x1="345.2" y1="145.75" x2="345.2" y2="148.45" stroke="#2a2a2a" stroke-width="0.9"/>
<text x="345.2" y="156.6" font-size="5.7" text-anchor="middle" fill="#333" font-weight="normal" >24</text>
<line x1="363.3" y1="145.75" x2="363.3" y2="148.45" stroke="#2a2a2a" stroke-width="0.9"/>
<text x="363.3" y="156.6" font-size="5.7" text-anchor="middle" fill="#333" font-weight="normal" >36</text>
<line x1="381.4" y1="145.75" x2="381.4" y2="148.45" stroke="#2a2a2a" stroke-width="0.9"/>
<text x="381.4" y="156.6" font-size="5.7" text-anchor="middle" fill="#333" font-weight="normal" >48</text>
<line x1="399.5" y1="145.75" x2="399.5" y2="148.45" stroke="#2a2a2a" stroke-width="0.9"/>
<text x="399.5" y="156.6" font-size="5.7" text-anchor="middle" fill="#333" font-weight="normal" >60</text>
<line x1="417.6" y1="145.75" x2="417.6" y2="148.45" stroke="#2a2a2a" stroke-width="0.9"/>
<text x="417.6" y="156.6" font-size="5.7" text-anchor="middle" fill="#333" font-weight="normal" >72</text>
<line x1="435.7" y1="145.75" x2="435.7" y2="148.45" stroke="#2a2a2a" stroke-width="0.9"/>
<text x="435.7" y="156.6" font-size="5.7" text-anchor="middle" fill="#333" font-weight="normal" >84</text>
<line x1="453.8" y1="145.75" x2="453.8" y2="148.45" stroke="#2a2a2a" stroke-width="0.9"/>
<text x="453.8" y="156.6" font-size="5.7" text-anchor="middle" fill="#333" font-weight="normal" >96</text>
<line x1="471.9" y1="145.75" x2="471.9" y2="148.45" stroke="#2a2a2a" stroke-width="0.9"/>
<text x="471.9" y="156.6" font-size="5.7" text-anchor="middle" fill="#333" font-weight="normal" >108</text>
<line x1="490" y1="145.75" x2="490" y2="148.45" stroke="#2a2a2a" stroke-width="0.9"/>
<text x="490" y="156.6" font-size="5.7" text-anchor="middle" fill="#333" font-weight="normal" >120</text>
<line x1="508.1" y1="145.75" x2="508.1" y2="148.45" stroke="#2a2a2a" stroke-width="0.9"/>
<text x="508.1" y="156.6" font-size="5.7" text-anchor="middle" fill="#333" font-weight="normal" >132</text>
<text x="409" y="167.7" font-size="7.7" text-anchor="middle" fill="#3a3a3a" font-weight="bold" textLength="35.7" lengthAdjust="spacingAndGlyphs" >Time (months)</text>
<text transform="translate(284.6,88.8) rotate(-90)" font-size="7.8" font-weight="bold" text-anchor="middle" fill="#3a3a3a" textLength="89.7" lengthAdjust="spacingAndGlyphs">Cumulative incidence of relapse (%)</text>
<text x="371.1" y="26" font-size="5.35" text-anchor="start" fill="#222" font-weight="normal" textLength="115.2" lengthAdjust="spacingAndGlyphs" >N (Events) 2-year CIR (95% Confidence interval)</text>
<line x1="346.9" y1="33.3" x2="361.1" y2="33.3" stroke="#3f9a3f" stroke-width="0.9"/>
<line x1="346.9" y1="42.8" x2="361.1" y2="42.8" stroke="#3f9a3f" stroke-width="0.95" stroke-dasharray="2.3,0.75"/>
<text x="363.9" y="35.1" font-size="5.5" fill="#222"><tspan fill="#3f9a3f">IA MRD(&#8722;):</tspan> 94 (17) 30.4 (17.8-44.0)</text>
<text x="363.9" y="44.7" font-size="5.5" fill="#222"><tspan fill="#3f9a3f">LOW+VEN MRD(&#8722;):</tspan> 49 (9) 23.6 (10.2-40.0)</text>
<polyline fill="none" stroke="#222" stroke-width="1" points="480,32.4 485.4,32.4 485.4,43 480,43"/>
<text x="488.3" y="39.9" font-size="5.9" fill="#222"><tspan font-style="italic">P</tspan> = .681</text>
<path d="M309,140.4H316.8V138H317.7V136.1H318.8V133.8H320V130.4H321V129H322.3V128.1H324.6V125.8H325.8V123.4H326.3V120.6H344V117.7H345.9V115.4H348.6V110.5H393.2V80" fill="none" stroke="#3f7a3f" stroke-width="0.95" stroke-dasharray="1.5,1.4"/>
<path d="M309,140.4H313V139.5H316.2V136H316.5V133.8H318.3V132.7H319.4V129.2H320.2V127.5H321.1V125.8H322.9V123.4H325.2V120.6H329.2V118.8H330.5V117.5H331.5V116H332.7V113.6H337.6V110.8H341.6V108.2H392.7V102.3H405.8V94.2H421.9V70.5H427.3" fill="none" stroke="#5a9a5a" stroke-width="0.95"/>
<line x1="345" y1="105.8" x2="345" y2="108.5" stroke="#2f4f2f" stroke-width="0.75"/>
<line x1="348" y1="105.8" x2="348" y2="108.5" stroke="#2f4f2f" stroke-width="0.75"/>
<line x1="352" y1="105.8" x2="352" y2="108.5" stroke="#2f4f2f" stroke-width="0.75"/>
<line x1="356.5" y1="105.8" x2="356.5" y2="108.5" stroke="#2f4f2f" stroke-width="0.75"/>
<line x1="359.6" y1="105.8" x2="359.6" y2="108.5" stroke="#2f4f2f" stroke-width="0.75"/>
<line x1="362.7" y1="105.8" x2="362.7" y2="108.5" stroke="#2f4f2f" stroke-width="0.75"/>
<line x1="368.8" y1="105.8" x2="368.8" y2="108.5" stroke="#2f4f2f" stroke-width="0.75"/>
<line x1="374.2" y1="105.8" x2="374.2" y2="108.5" stroke="#2f4f2f" stroke-width="0.75"/>
<line x1="380.4" y1="105.8" x2="380.4" y2="108.5" stroke="#2f4f2f" stroke-width="0.75"/>
<line x1="383.5" y1="105.8" x2="383.5" y2="108.5" stroke="#2f4f2f" stroke-width="0.75"/>
<line x1="395" y1="99.9" x2="395" y2="102.6" stroke="#2f4f2f" stroke-width="0.75"/>
<line x1="398.1" y1="99.9" x2="398.1" y2="102.6" stroke="#2f4f2f" stroke-width="0.75"/>
<line x1="401.2" y1="99.9" x2="401.2" y2="102.6" stroke="#2f4f2f" stroke-width="0.75"/>
<line x1="411.9" y1="91.8" x2="411.9" y2="94.5" stroke="#2f4f2f" stroke-width="0.75"/>
<line x1="416.5" y1="91.8" x2="416.5" y2="94.5" stroke="#2f4f2f" stroke-width="0.75"/>
<line x1="418.8" y1="91.8" x2="418.8" y2="94.5" stroke="#2f4f2f" stroke-width="0.75"/>
<line x1="427.3" y1="68.1" x2="427.3" y2="70.8" stroke="#2f4f2f" stroke-width="0.75"/>
<line x1="334" y1="111.2" x2="334" y2="113.9" stroke="#2f4f2f" stroke-width="0.75"/>
<line x1="327" y1="116.4" x2="327" y2="119.1" stroke="#2f4f2f" stroke-width="0.75"/>
<line x1="330" y1="118.2" x2="330" y2="120.9" stroke="#2f4f2f" stroke-width="0.75"/>
<line x1="333" y1="118.2" x2="333" y2="120.9" stroke="#2f4f2f" stroke-width="0.75"/>
<line x1="336" y1="118.2" x2="336" y2="120.9" stroke="#2f4f2f" stroke-width="0.75"/>
<line x1="339" y1="118.2" x2="339" y2="120.9" stroke="#2f4f2f" stroke-width="0.75"/>
<line x1="352" y1="108.1" x2="352" y2="110.8" stroke="#2f4f2f" stroke-width="0.75"/>
<line x1="356" y1="108.1" x2="356" y2="110.8" stroke="#2f4f2f" stroke-width="0.75"/>
<line x1="360" y1="108.1" x2="360" y2="110.8" stroke="#2f4f2f" stroke-width="0.75"/>
<line x1="364" y1="108.1" x2="364" y2="110.8" stroke="#2f4f2f" stroke-width="0.75"/>
<line x1="368" y1="108.1" x2="368" y2="110.8" stroke="#2f4f2f" stroke-width="0.75"/>
<line x1="372" y1="108.1" x2="372" y2="110.8" stroke="#2f4f2f" stroke-width="0.75"/>
<line x1="376" y1="108.1" x2="376" y2="110.8" stroke="#2f4f2f" stroke-width="0.75"/>
<line x1="380" y1="108.1" x2="380" y2="110.8" stroke="#2f4f2f" stroke-width="0.75"/>
<line x1="384" y1="108.1" x2="384" y2="110.8" stroke="#2f4f2f" stroke-width="0.75"/>
<line x1="388" y1="108.1" x2="388" y2="110.8" stroke="#2f4f2f" stroke-width="0.75"/>
<path d="M309.2,138.6 L312,139.2 L315.6,138.4 L315.6,141.6 L309.2,141.9 Z" fill="#2f6a2f"/>
<line x1="316.8" y1="134.1" x2="316.8" y2="136.4" stroke="#2f6a2f" stroke-width="0.9"/>
<line x1="318.3" y1="130.7" x2="318.3" y2="133" stroke="#2f6a2f" stroke-width="0.9"/>
<line x1="319.6" y1="127.2" x2="319.6" y2="129.5" stroke="#2f6a2f" stroke-width="0.9"/>
<line x1="321.3" y1="123.8" x2="321.3" y2="126.1" stroke="#2f6a2f" stroke-width="0.9"/>
<line x1="323.5" y1="121.4" x2="323.5" y2="123.7" stroke="#2f6a2f" stroke-width="0.9"/>
<line x1="325.6" y1="118.6" x2="325.6" y2="120.9" stroke="#2f6a2f" stroke-width="0.9"/>
<line x1="328" y1="116.8" x2="328" y2="119.1" stroke="#2f6a2f" stroke-width="0.9"/>
<line x1="331" y1="114" x2="331" y2="116.3" stroke="#2f6a2f" stroke-width="0.9"/>
<line x1="333.5" y1="111.6" x2="333.5" y2="113.9" stroke="#2f6a2f" stroke-width="0.9"/>
<line x1="336" y1="111.6" x2="336" y2="113.9" stroke="#2f6a2f" stroke-width="0.9"/>
<line x1="339" y1="108.8" x2="339" y2="111.1" stroke="#2f6a2f" stroke-width="0.9"/>
<line x1="318.5" y1="131.8" x2="318.5" y2="134.1" stroke="#2f6a2f" stroke-width="0.9"/>
<line x1="320.5" y1="128.4" x2="320.5" y2="130.7" stroke="#2f6a2f" stroke-width="0.9"/>
<line x1="323" y1="126.1" x2="323" y2="128.4" stroke="#2f6a2f" stroke-width="0.9"/>
<line x1="325" y1="123.8" x2="325" y2="126.1" stroke="#2f6a2f" stroke-width="0.9"/>
<text x="267" y="227.5" font-size="10.5" text-anchor="start" fill="#000" font-weight="bold" stroke="#000" stroke-width="0.35">E</text>
<line x1="305.5" y1="243.9" x2="305.5" y2="358.25" stroke="#2a2a2a" stroke-width="1.3"/>
<line x1="304.85" y1="357.65" x2="512.3" y2="357.65" stroke="#2a2a2a" stroke-width="1.35"/>
<line x1="302.9" y1="352.3" x2="305.5" y2="352.3" stroke="#2a2a2a" stroke-width="0.9"/>
<text x="300" y="354.35" font-size="5.7" text-anchor="end" fill="#333" font-weight="normal" >0</text>
<line x1="302.9" y1="341.7" x2="305.5" y2="341.7" stroke="#2a2a2a" stroke-width="0.9"/>
<text x="300" y="343.75" font-size="5.7" text-anchor="end" fill="#333" font-weight="normal" >10</text>
<line x1="302.9" y1="331.1" x2="305.5" y2="331.1" stroke="#2a2a2a" stroke-width="0.9"/>
<text x="300" y="333.15" font-size="5.7" text-anchor="end" fill="#333" font-weight="normal" >20</text>
<line x1="302.9" y1="320.5" x2="305.5" y2="320.5" stroke="#2a2a2a" stroke-width="0.9"/>
<text x="300" y="322.55" font-size="5.7" text-anchor="end" fill="#333" font-weight="normal" >30</text>
<line x1="302.9" y1="309.9" x2="305.5" y2="309.9" stroke="#2a2a2a" stroke-width="0.9"/>
<text x="300" y="311.95" font-size="5.7" text-anchor="end" fill="#333" font-weight="normal" >40</text>
<line x1="302.9" y1="299.3" x2="305.5" y2="299.3" stroke="#2a2a2a" stroke-width="0.9"/>
<text x="300" y="301.35" font-size="5.7" text-anchor="end" fill="#333" font-weight="normal" >50</text>
<line x1="302.9" y1="288.7" x2="305.5" y2="288.7" stroke="#2a2a2a" stroke-width="0.9"/>
<text x="300" y="290.75" font-size="5.7" text-anchor="end" fill="#333" font-weight="normal" >60</text>
<line x1="302.9" y1="278.1" x2="305.5" y2="278.1" stroke="#2a2a2a" stroke-width="0.9"/>
<text x="300" y="280.15" font-size="5.7" text-anchor="end" fill="#333" font-weight="normal" >70</text>
<line x1="302.9" y1="267.5" x2="305.5" y2="267.5" stroke="#2a2a2a" stroke-width="0.9"/>
<text x="300" y="269.55" font-size="5.7" text-anchor="end" fill="#333" font-weight="normal" >80</text>
<line x1="302.9" y1="256.9" x2="305.5" y2="256.9" stroke="#2a2a2a" stroke-width="0.9"/>
<text x="300" y="258.95" font-size="5.7" text-anchor="end" fill="#333" font-weight="normal" >90</text>
<line x1="302.9" y1="246.3" x2="305.5" y2="246.3" stroke="#2a2a2a" stroke-width="0.9"/>
<text x="300" y="248.35" font-size="5.7" text-anchor="end" fill="#333" font-weight="normal" >100</text>
<line x1="309" y1="357.65" x2="309" y2="360.35" stroke="#2a2a2a" stroke-width="0.9"/>
<text x="309" y="368.5" font-size="5.7" text-anchor="middle" fill="#333" font-weight="normal" >0</text>
<line x1="327.1" y1="357.65" x2="327.1" y2="360.35" stroke="#2a2a2a" stroke-width="0.9"/>
<text x="327.1" y="368.5" font-size="5.7" text-anchor="middle" fill="#333" font-weight="normal" >12</text>
<line x1="345.2" y1="357.65" x2="345.2" y2="360.35" stroke="#2a2a2a" stroke-width="0.9"/>
<text x="345.2" y="368.5" font-size="5.7" text-anchor="middle" fill="#333" font-weight="normal" >24</text>
<line x1="363.3" y1="357.65" x2="363.3" y2="360.35" stroke="#2a2a2a" stroke-width="0.9"/>
<text x="363.3" y="368.5" font-size="5.7" text-anchor="middle" fill="#333" font-weight="normal" >36</text>
<line x1="381.4" y1="357.65" x2="381.4" y2="360.35" stroke="#2a2a2a" stroke-width="0.9"/>
<text x="381.4" y="368.5" font-size="5.7" text-anchor="middle" fill="#333" font-weight="normal" >48</text>
<line x1="399.5" y1="357.65" x2="399.5" y2="360.35" stroke="#2a2a2a" stroke-width="0.9"/>
<text x="399.5" y="368.5" font-size="5.7" text-anchor="middle" fill="#333" font-weight="normal" >60</text>
<line x1="417.6" y1="357.65" x2="417.6" y2="360.35" stroke="#2a2a2a" stroke-width="0.9"/>
<text x="417.6" y="368.5" font-size="5.7" text-anchor="middle" fill="#333" font-weight="normal" >72</text>
<line x1="435.7" y1="357.65" x2="435.7" y2="360.35" stroke="#2a2a2a" stroke-width="0.9"/>
<text x="435.7" y="368.5" font-size="5.7" text-anchor="middle" fill="#333" font-weight="normal" >84</text>
<line x1="453.8" y1="357.65" x2="453.8" y2="360.35" stroke="#2a2a2a" stroke-width="0.9"/>
<text x="453.8" y="368.5" font-size="5.7" text-anchor="middle" fill="#333" font-weight="normal" >96</text>
<line x1="471.9" y1="357.65" x2="471.9" y2="360.35" stroke="#2a2a2a" stroke-width="0.9"/>
<text x="471.9" y="368.5" font-size="5.7" text-anchor="middle" fill="#333" font-weight="normal" >108</text>
<line x1="490" y1="357.65" x2="490" y2="360.35" stroke="#2a2a2a" stroke-width="0.9"/>
<text x="490" y="368.5" font-size="5.7" text-anchor="middle" fill="#333" font-weight="normal" >120</text>
<line x1="508.1" y1="357.65" x2="508.1" y2="360.35" stroke="#2a2a2a" stroke-width="0.9"/>
<text x="508.1" y="368.5" font-size="5.7" text-anchor="middle" fill="#333" font-weight="normal" >132</text>
<text x="409" y="379.6" font-size="7.7" text-anchor="middle" fill="#3a3a3a" font-weight="bold" textLength="35.7" lengthAdjust="spacingAndGlyphs" >Time (months)</text>
<text transform="translate(284.6,300.7) rotate(-90)" font-size="7.8" font-weight="bold" text-anchor="middle" fill="#3a3a3a" textLength="89.7" lengthAdjust="spacingAndGlyphs">Cumulative incidence of relapse (%)</text>
<text x="371.1" y="237.9" font-size="5.35" text-anchor="start" fill="#222" font-weight="normal" textLength="115.2" lengthAdjust="spacingAndGlyphs" >N (Events) 2-year CIR (95% Confidence interval)</text>
<line x1="346.9" y1="245.2" x2="361.1" y2="245.2" stroke="#e89a2e" stroke-width="0.9"/>
<line x1="346.9" y1="254.7" x2="361.1" y2="254.7" stroke="#e89a2e" stroke-width="0.95" stroke-dasharray="2.3,0.75"/>
<text x="363.9" y="247" font-size="5.5" fill="#222"><tspan fill="#e89a2e">IA MRD(&#8722;):</tspan> 108 (31) 43.5 (30.4-55.8)</text>
<text x="363.9" y="256.6" font-size="5.5" fill="#222"><tspan fill="#e89a2e">LOW+VEN MRD(&#8722;):</tspan> 33 (7) 39.0 (16.8-60.8)</text>
<polyline fill="none" stroke="#222" stroke-width="1" points="480,244.3 485.4,244.3 485.4,254.9 480,254.9"/>
<text x="488.3" y="251.8" font-size="5.9" fill="#222"><tspan font-style="italic">P</tspan> = .686</text>
<path d="M309.5,352.3H313.1V346.3H314.2V346.1H316V338.1H317.1V333.4H320.6V332.3H322.3V330H322.9V324.8H324V321.9H325.2V318.5H326.3V315H328.1V311.5H329.8V311H359.2" fill="none" stroke="#c98a40" stroke-width="0.95" stroke-dasharray="1.5,1.4"/>
<path d="M309.5,352.3H309.8V345H313.6V345H314.8V340.4H316V334.6H316.5V330H317.7V324.8H320V322.5H322.3V319H324V316.1H326.3V313.3H328.1V311.5H329.8V310.4H333.3V309.2H335.6V306.3H352.3V304.6H354.6V303.5H358V301.2H360.4V298.9H361.5V297.7H400V291.9H401.3V285.7H493.8" fill="none" stroke="#e0a050" stroke-width="0.95"/>
<line x1="339" y1="303.9" x2="339" y2="306.6" stroke="#111" stroke-width="0.8"/>
<line x1="343.6" y1="303.9" x2="343.6" y2="306.6" stroke="#111" stroke-width="0.8"/>
<line x1="347.1" y1="303.9" x2="347.1" y2="306.6" stroke="#111" stroke-width="0.8"/>
<line x1="350.6" y1="303.9" x2="350.6" y2="306.6" stroke="#111" stroke-width="0.8"/>
<line x1="367.5" y1="295.3" x2="367.5" y2="298" stroke="#111" stroke-width="0.8"/>
<line x1="375.4" y1="295.3" x2="375.4" y2="298" stroke="#111" stroke-width="0.8"/>
<line x1="383.1" y1="295.3" x2="383.1" y2="298" stroke="#111" stroke-width="0.8"/>
<line x1="384.5" y1="295.3" x2="384.5" y2="298" stroke="#111" stroke-width="0.8"/>
<line x1="402" y1="283.3" x2="402" y2="286" stroke="#111" stroke-width="0.8"/>
<line x1="405.4" y1="283.3" x2="405.4" y2="286" stroke="#111" stroke-width="0.8"/>
<line x1="456.7" y1="283.3" x2="456.7" y2="286" stroke="#111" stroke-width="0.8"/>
<line x1="488.5" y1="283.3" x2="488.5" y2="286" stroke="#111" stroke-width="0.8"/>
<line x1="493.1" y1="283.3" x2="493.1" y2="286" stroke="#111" stroke-width="0.8"/>
<line x1="333" y1="308.6" x2="333" y2="311.3" stroke="#5a4a3a" stroke-width="0.75"/>
<line x1="337" y1="308.6" x2="337" y2="311.3" stroke="#5a4a3a" stroke-width="0.75"/>
<line x1="341" y1="308.6" x2="341" y2="311.3" stroke="#5a4a3a" stroke-width="0.75"/>
<line x1="345" y1="308.6" x2="345" y2="311.3" stroke="#5a4a3a" stroke-width="0.75"/>
<line x1="349" y1="308.6" x2="349" y2="311.3" stroke="#5a4a3a" stroke-width="0.75"/>
<line x1="353" y1="308.6" x2="353" y2="311.3" stroke="#5a4a3a" stroke-width="0.75"/>
<line x1="357" y1="308.6" x2="357" y2="311.3" stroke="#5a4a3a" stroke-width="0.75"/>
<line x1="359.2" y1="308.6" x2="359.2" y2="311.3" stroke="#5a4a3a" stroke-width="0.75"/>
<line x1="318.5" y1="322.4" x2="318.5" y2="325.1" stroke="#111" stroke-width="0.8"/>
<line x1="321" y1="320.1" x2="321" y2="322.8" stroke="#111" stroke-width="0.8"/>
<line x1="324.5" y1="313.7" x2="324.5" y2="316.4" stroke="#111" stroke-width="0.8"/>
<line x1="327" y1="310.9" x2="327" y2="313.6" stroke="#111" stroke-width="0.8"/>
<line x1="330.5" y1="308" x2="330.5" y2="310.7" stroke="#111" stroke-width="0.8"/>
<path d="M309.5,352.6 L310.2,344.5 H313.7 L312.6,352.4 Z M313.6,345.6 H316.3" fill="none" stroke="#1e1a16" stroke-width="1.25"/>
<text x="267" y="439.6" font-size="10.5" text-anchor="start" fill="#000" font-weight="bold" stroke="#000" stroke-width="0.35">F</text>
<line x1="305.5" y1="455.8" x2="305.5" y2="570.15" stroke="#2a2a2a" stroke-width="1.3"/>
<line x1="304.85" y1="569.55" x2="512.3" y2="569.55" stroke="#2a2a2a" stroke-width="1.35"/>
<line x1="302.9" y1="564.2" x2="305.5" y2="564.2" stroke="#2a2a2a" stroke-width="0.9"/>
<text x="300" y="566.25" font-size="5.7" text-anchor="end" fill="#333" font-weight="normal" >0</text>
<line x1="302.9" y1="553.6" x2="305.5" y2="553.6" stroke="#2a2a2a" stroke-width="0.9"/>
<text x="300" y="555.65" font-size="5.7" text-anchor="end" fill="#333" font-weight="normal" >10</text>
<line x1="302.9" y1="543" x2="305.5" y2="543" stroke="#2a2a2a" stroke-width="0.9"/>
<text x="300" y="545.05" font-size="5.7" text-anchor="end" fill="#333" font-weight="normal" >20</text>
<line x1="302.9" y1="532.4" x2="305.5" y2="532.4" stroke="#2a2a2a" stroke-width="0.9"/>
<text x="300" y="534.45" font-size="5.7" text-anchor="end" fill="#333" font-weight="normal" >30</text>
<line x1="302.9" y1="521.8" x2="305.5" y2="521.8" stroke="#2a2a2a" stroke-width="0.9"/>
<text x="300" y="523.85" font-size="5.7" text-anchor="end" fill="#333" font-weight="normal" >40</text>
<line x1="302.9" y1="511.2" x2="305.5" y2="511.2" stroke="#2a2a2a" stroke-width="0.9"/>
<text x="300" y="513.25" font-size="5.7" text-anchor="end" fill="#333" font-weight="normal" >50</text>
<line x1="302.9" y1="500.6" x2="305.5" y2="500.6" stroke="#2a2a2a" stroke-width="0.9"/>
<text x="300" y="502.65" font-size="5.7" text-anchor="end" fill="#333" font-weight="normal" >60</text>
<line x1="302.9" y1="490" x2="305.5" y2="490" stroke="#2a2a2a" stroke-width="0.9"/>
<text x="300" y="492.05" font-size="5.7" text-anchor="end" fill="#333" font-weight="normal" >70</text>
<line x1="302.9" y1="479.4" x2="305.5" y2="479.4" stroke="#2a2a2a" stroke-width="0.9"/>
<text x="300" y="481.45" font-size="5.7" text-anchor="end" fill="#333" font-weight="normal" >80</text>
<line x1="302.9" y1="468.8" x2="305.5" y2="468.8" stroke="#2a2a2a" stroke-width="0.9"/>
<text x="300" y="470.85" font-size="5.7" text-anchor="end" fill="#333" font-weight="normal" >90</text>
<line x1="302.9" y1="458.2" x2="305.5" y2="458.2" stroke="#2a2a2a" stroke-width="0.9"/>
<text x="300" y="460.25" font-size="5.7" text-anchor="end" fill="#333" font-weight="normal" >100</text>
<line x1="309" y1="569.55" x2="309" y2="572.25" stroke="#2a2a2a" stroke-width="0.9"/>
<text x="309" y="580.4" font-size="5.7" text-anchor="middle" fill="#333" font-weight="normal" >0</text>
<line x1="327.1" y1="569.55" x2="327.1" y2="572.25" stroke="#2a2a2a" stroke-width="0.9"/>
<text x="327.1" y="580.4" font-size="5.7" text-anchor="middle" fill="#333" font-weight="normal" >12</text>
<line x1="345.2" y1="569.55" x2="345.2" y2="572.25" stroke="#2a2a2a" stroke-width="0.9"/>
<text x="345.2" y="580.4" font-size="5.7" text-anchor="middle" fill="#333" font-weight="normal" >24</text>
<line x1="363.3" y1="569.55" x2="363.3" y2="572.25" stroke="#2a2a2a" stroke-width="0.9"/>
<text x="363.3" y="580.4" font-size="5.7" text-anchor="middle" fill="#333" font-weight="normal" >36</text>
<line x1="381.4" y1="569.55" x2="381.4" y2="572.25" stroke="#2a2a2a" stroke-width="0.9"/>
<text x="381.4" y="580.4" font-size="5.7" text-anchor="middle" fill="#333" font-weight="normal" >48</text>
<line x1="399.5" y1="569.55" x2="399.5" y2="572.25" stroke="#2a2a2a" stroke-width="0.9"/>
<text x="399.5" y="580.4" font-size="5.7" text-anchor="middle" fill="#333" font-weight="normal" >60</text>
<line x1="417.6" y1="569.55" x2="417.6" y2="572.25" stroke="#2a2a2a" stroke-width="0.9"/>
<text x="417.6" y="580.4" font-size="5.7" text-anchor="middle" fill="#333" font-weight="normal" >72</text>
<line x1="435.7" y1="569.55" x2="435.7" y2="572.25" stroke="#2a2a2a" stroke-width="0.9"/>
<text x="435.7" y="580.4" font-size="5.7" text-anchor="middle" fill="#333" font-weight="normal" >84</text>
<line x1="453.8" y1="569.55" x2="453.8" y2="572.25" stroke="#2a2a2a" stroke-width="0.9"/>
<text x="453.8" y="580.4" font-size="5.7" text-anchor="middle" fill="#333" font-weight="normal" >96</text>
<line x1="471.9" y1="569.55" x2="471.9" y2="572.25" stroke="#2a2a2a" stroke-width="0.9"/>
<text x="471.9" y="580.4" font-size="5.7" text-anchor="middle" fill="#333" font-weight="normal" >108</text>
<line x1="490" y1="569.55" x2="490" y2="572.25" stroke="#2a2a2a" stroke-width="0.9"/>
<text x="490" y="580.4" font-size="5.7" text-anchor="middle" fill="#333" font-weight="normal" >120</text>
<line x1="508.1" y1="569.55" x2="508.1" y2="572.25" stroke="#2a2a2a" stroke-width="0.9"/>
<text x="508.1" y="580.4" font-size="5.7" text-anchor="middle" fill="#333" font-weight="normal" >132</text>
<text x="409" y="591.5" font-size="7.7" text-anchor="middle" fill="#3a3a3a" font-weight="bold" textLength="35.7" lengthAdjust="spacingAndGlyphs" >Time (months)</text>
<text transform="translate(284.6,512.6) rotate(-90)" font-size="7.8" font-weight="bold" text-anchor="middle" fill="#3a3a3a" textLength="89.7" lengthAdjust="spacingAndGlyphs">Cumulative incidence of relapse (%)</text>
<text x="371.1" y="449.8" font-size="5.35" text-anchor="start" fill="#222" font-weight="normal" textLength="115.2" lengthAdjust="spacingAndGlyphs" >N (Events) 2-year CIR (95% Confidence interval)</text>
<line x1="346.9" y1="457.1" x2="361.1" y2="457.1" stroke="#c0244c" stroke-width="0.9"/>
<line x1="346.9" y1="466.6" x2="361.1" y2="466.6" stroke="#c0244c" stroke-width="0.95" stroke-dasharray="2.3,0.75"/>
<text x="363.9" y="458.9" font-size="5.5" fill="#222"><tspan fill="#c0244c">IA MRD(&#8722;):</tspan> 65 (16) 60.8 (35.8-78.5)</text>
<text x="363.9" y="468.5" font-size="5.5" fill="#222"><tspan fill="#c0244c">LOW+VEN MRD(&#8722;):</tspan> 69 (18) 39.6 (24.5-54.3)</text>
<polyline fill="none" stroke="#222" stroke-width="1" points="480,456.2 485.4,456.2 485.4,466.8 480,466.8"/>
<text x="488.3" y="463.7" font-size="5.9" fill="#222"><tspan font-style="italic">P</tspan> = .128</text>
<path d="M309.5,564.2H310.5V561H312.1V556.5H313.9V550.6H315.1V547.1H316.2V544.7H317.4V540H319.2V537.6H321V532.9H322.2V530.5H323.8V526.3H332.5V522.2H363V503.9H406" fill="none" stroke="#a82045" stroke-width="0.95" stroke-dasharray="1.5,1.4"/>
<path d="M309.5,564.2H310V562H311V559H311.8V556H312.5V553H313.3V549.5H313.9V542.3H314.5V537H315.1V532.9H315.7V526.4H318V519.9H318.6V506.8H339.3V499.5H424.2" fill="none" stroke="#c02850" stroke-width="0.95"/>
<line x1="331.2" y1="504.6" x2="331.2" y2="507.1" stroke="#6a1830" stroke-width="0.75"/>
<line x1="346" y1="497.3" x2="346" y2="499.8" stroke="#6a1830" stroke-width="0.75"/>
<line x1="401.2" y1="497.3" x2="401.2" y2="499.8" stroke="#6a1830" stroke-width="0.75"/>
<line x1="424.2" y1="497.3" x2="424.2" y2="499.8" stroke="#6a1830" stroke-width="0.75"/>
<line x1="326" y1="523.9" x2="326" y2="526.6" stroke="#6a1830" stroke-width="0.75"/>
<line x1="329.5" y1="523.9" x2="329.5" y2="526.6" stroke="#6a1830" stroke-width="0.75"/>
<line x1="332.3" y1="519.8" x2="332.3" y2="522.5" stroke="#6a1830" stroke-width="0.75"/>
<line x1="335.4" y1="519.8" x2="335.4" y2="522.5" stroke="#6a1830" stroke-width="0.75"/>
<line x1="338.5" y1="519.8" x2="338.5" y2="522.5" stroke="#6a1830" stroke-width="0.75"/>
<line x1="340.4" y1="519.8" x2="340.4" y2="522.5" stroke="#6a1830" stroke-width="0.75"/>
<line x1="343.5" y1="519.8" x2="343.5" y2="522.5" stroke="#6a1830" stroke-width="0.75"/>
<line x1="348.1" y1="519.8" x2="348.1" y2="522.5" stroke="#6a1830" stroke-width="0.75"/>
<line x1="353.1" y1="519.8" x2="353.1" y2="522.5" stroke="#6a1830" stroke-width="0.75"/>
<line x1="357.3" y1="519.8" x2="357.3" y2="522.5" stroke="#6a1830" stroke-width="0.75"/>
<line x1="362.3" y1="519.8" x2="362.3" y2="522.5" stroke="#6a1830" stroke-width="0.75"/>
<line x1="406" y1="501.5" x2="406" y2="504.2" stroke="#6a1830" stroke-width="0.75"/>
<line x1="319" y1="535.2" x2="319" y2="537.9" stroke="#6a1830" stroke-width="0.75"/>
<line x1="320.5" y1="535.2" x2="320.5" y2="537.9" stroke="#6a1830" stroke-width="0.75"/>
<rect x="309.1" y="562.9" width="1.4" height="1.4" fill="#111"/>
<rect x="311.5" y="555.3" width="1.4" height="1.4" fill="#111"/>
<rect x="314.1" y="546.8" width="1.4" height="1.4" fill="#111"/>
</g>
<rect x="0.5" y="0.5" width="519" height="633" fill="none" stroke="#666" stroke-width="1"/>
</svg></body></html>
